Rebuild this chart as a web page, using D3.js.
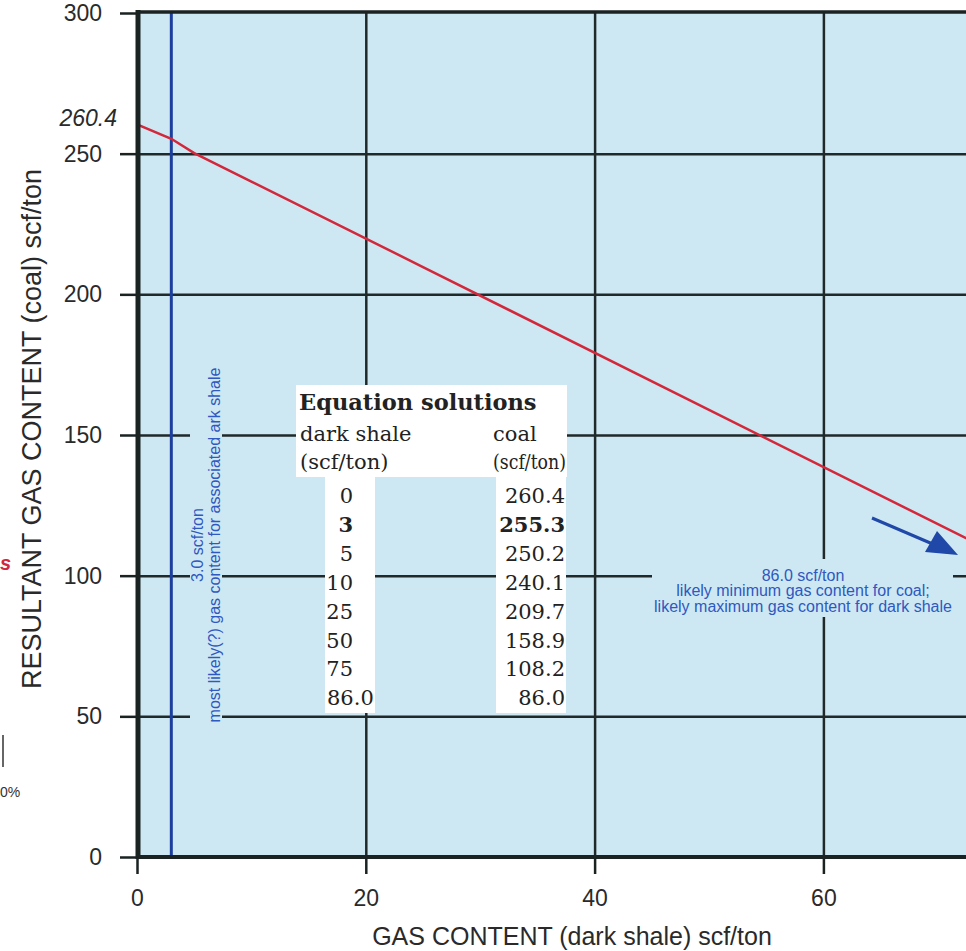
<!DOCTYPE html>
<html>
<head>
<meta charset="utf-8">
<script src="https://cdn.jsdelivr.net/npm/d3@7"></script>
<style>
  body { margin: 0; background: #fff; }
  svg { display: block; }
</style>
</head>
<body>
<div id="chart"></div>
<script>
// equation solutions, scf/ton
const shaleGas = [0, 3, 5, 10, 25, 50, 75, 86.0];
const coalGas = [260.4, 255.3, 250.2, 240.1, 209.7, 158.9, 108.2, 86.0];
const shaleLabels = ["0", "3", "5", "10", "25", "50", "75", "86.0"];
const coalLabels = ["260.4", "255.3", "250.2", "240.1", "209.7", "158.9", "108.2", "86.0"];
const likelyShale = 3;
const xTicks = [0, 20, 40, 60];
const yTicks = [0, 50, 100, 150, 200, 250, 300];
const xDomain = [0, 80];
const yDomain = [0, 300];

const width = 966, height = 951;
const plotLeft = 137, plotTop = 13, plotBottom = 857;
const pxPerUnit = 11.44;

const gridColor = "#1f2929";
const plotBg = "#cee8f3";
const blueText = "#2f58c0";
const sans = "'Liberation Sans', Arial, sans-serif";

let svg = d3.select("#chart")
    .append("svg")
    .attr("width", width)
    .attr("height", height);

let x = d3.scaleLinear().domain(xDomain).range([plotLeft, plotLeft + xDomain[1] * pxPerUnit]);
let y = d3.scaleLinear().domain(yDomain).range([plotBottom, plotTop]);

svg.append("defs").append("clipPath").attr("id", "plotClip")
    .append("rect")
    .attr("x", x(0)).attr("y", y(300))
    .attr("width", x(80) - x(0)).attr("height", y(0) - y(300));

// plot background
svg.append("rect")
    .attr("x", x(0)).attr("y", y(300))
    .attr("width", x(80) - x(0)).attr("height", y(0) - y(300))
    .attr("fill", plotBg);

// grid
let gy = svg.append("g")
    .attr("transform", "translate(" + x(0) + ",0)")
    .call(d3.axisLeft(y).tickValues(yTicks.slice(1, -1)).tickSize(-(x(80) - x(0))).tickFormat(""));
let gx = svg.append("g")
    .attr("transform", "translate(0," + y(0) + ")")
    .call(d3.axisBottom(x).tickValues([20, 40, 60]).tickSize(-(y(0) - y(300))).tickFormat(""));
[gy, gx].forEach(function (g) {
    g.select(".domain").remove();
    g.selectAll("line").attr("stroke", gridColor).attr("stroke-width", 2.5);
});

// boxes behind the annotations
svg.append("rect").attr("x", 190).attr("y", 362).attr("width", 32).attr("height", 366).attr("fill", plotBg);
svg.append("rect").attr("x", 652).attr("y", 559).attr("width", 301).attr("height", 58).attr("fill", plotBg);

// table boxes
svg.append("rect").attr("x", 296).attr("y", 385).attr("width", 271).attr("height", 92).attr("fill", "#fff");
svg.append("rect").attr("x", 325).attr("y", 477).attr("width", 50).attr("height", 236).attr("fill", "#fff");
svg.append("rect").attr("x", 496).attr("y", 477).attr("width", 70).attr("height", 236).attr("fill", "#fff");

let plot = svg.append("g").attr("clip-path", "url(#plotClip)");

// most likely dark shale content
plot.append("line")
    .attr("x1", x(likelyShale)).attr("x2", x(likelyShale))
    .attr("y1", y(0)).attr("y2", y(300))
    .attr("stroke", "#1c3f9e")
    .attr("stroke-width", 3);

// solutions line
let line = d3.line()
    .x(function (d) { return x(d[0]); })
    .y(function (d) { return y(d[1]); });

plot.append("path")
    .datum(d3.zip(shaleGas, coalGas))
    .attr("d", line)
    .attr("fill", "none")
    .attr("stroke", "#d3283b")
    .attr("stroke-width", 2.5);

// frame
svg.append("line").attr("x1", x(0) + 1).attr("x2", x(0) + 1).attr("y1", y(300) - 3).attr("y2", y(0) + 2)
    .attr("stroke", "#1a2222").attr("stroke-width", 5);
svg.append("line").attr("x1", x(0)).attr("x2", width).attr("y1", y(0)).attr("y2", y(0))
    .attr("stroke", "#1a2222").attr("stroke-width", 4);
svg.append("line").attr("x1", x(0)).attr("x2", width).attr("y1", y(300) - 1).attr("y2", y(300) - 1)
    .attr("stroke", "#1a2222").attr("stroke-width", 3.5);

// axes
let ay = svg.append("g")
    .attr("transform", "translate(" + x(0) + ",0)")
    .call(d3.axisLeft(y).tickValues(yTicks).tickSize(17).tickPadding(18));
let ax = svg.append("g")
    .attr("transform", "translate(0," + y(0) + ")")
    .call(d3.axisBottom(x).tickValues(xTicks).tickSize(17).tickPadding(16));
[ay, ax].forEach(function (g) {
    g.select(".domain").remove();
    g.selectAll("line").attr("stroke", "#1a2222").attr("stroke-width", 2.5);
    g.selectAll("text")
        .attr("fill", "#2a2a2a")
        .style("font-family", sans)
        .style("font-size", "23px");
});

// intercept label
svg.append("text")
    .attr("x", 117).attr("y", y(coalGas[0]) + 2)
    .attr("text-anchor", "end")
    .style("font-family", sans)
    .style("font-size", "23px")
    .style("font-style", "italic")
    .attr("fill", "#2a2a2a")
    .text(coalLabels[0]);

// axis titles
svg.append("text")
    .attr("transform", "translate(41,429) rotate(-90)")
    .attr("text-anchor", "middle")
    .style("font-family", sans)
    .style("font-size", "27px")
    .attr("fill", "#2a2a2a")
    .text("RESULTANT GAS CONTENT (coal) scf/ton");

svg.append("text")
    .attr("x", 572).attr("y", 945)
    .attr("text-anchor", "middle")
    .style("font-family", sans)
    .style("font-size", "25px")
    .attr("fill", "#2a2a2a")
    .text("GAS CONTENT (dark shale) scf/ton");

// rotated annotation beside the blue line
let rot = svg.append("text")
    .attr("transform", "translate(0,545) rotate(-90)")
    .attr("text-anchor", "middle")
    .style("font-family", sans)
    .style("font-size", "16px")
    .attr("fill", blueText);
rot.append("tspan").attr("x", 0).attr("y", 203).text(likelyShale.toFixed(1) + " scf/ton");
rot.append("tspan").attr("x", 0).attr("y", 220).text("most likely(?) gas content for associated ark shale");

// 86.0 annotation
let note = svg.append("text")
    .attr("text-anchor", "middle")
    .style("font-family", sans)
    .style("font-size", "16px")
    .attr("fill", blueText);
[coalLabels[coalLabels.length - 1] + " scf/ton", "likely minimum gas content for coal;", "likely maximum gas content for dark shale"]
    .forEach(function (t, i) {
        note.append("tspan").attr("x", 803).attr("y", 581 + i * 15.3).text(t);
    });

// arrow
svg.append("line")
    .attr("x1", 872).attr("y1", 518).attr("x2", 935).attr("y2", 545)
    .attr("stroke", "#1f48a8").attr("stroke-width", 3);
svg.append("path")
    .attr("d", "M958,555 L925,552 L937,531 Z")
    .attr("fill", "#1f48a8");

// table
let serif = "'DejaVu Serif', 'Liberation Serif', serif";
let tbl = svg.append("g")
    .style("font-family", serif)
    .style("font-size", "21px")
    .attr("fill", "#222");
tbl.append("text").attr("x", 299).attr("y", 410).style("font-weight", "bold").style("font-size", "22.5px").text("Equation solutions");
tbl.append("text").attr("x", 300).attr("y", 441).text("dark shale");
tbl.append("text").attr("x", 493).attr("y", 441).text("coal");
tbl.append("text").attr("x", 300).attr("y", 469).text("(scf/ton)");
tbl.append("text").attr("x", 493).attr("y", 469)
    .attr("textLength", 73).attr("lengthAdjust", "spacingAndGlyphs").text("(scf/ton)");

shaleLabels.forEach(function (s, i) {
    let by = 503 + i * 28.9;
    let bold = shaleGas[i] === likelyShale ? "bold" : "normal";
    tbl.append("text")
        .attr("x", s.indexOf(".") >= 0 ? 327 : 353)
        .attr("text-anchor", s.indexOf(".") >= 0 ? "start" : "end")
        .attr("y", by)
        .style("font-weight", bold)
        .text(s);
    tbl.append("text")
        .attr("x", 565)
        .attr("text-anchor", "end")
        .attr("y", by)
        .style("font-weight", bold)
        .text(coalLabels[i]);
});

// fragments of the neighbouring panel at the left edge
svg.append("text").attr("x", 0).attr("y", 570)
    .style("font-family", sans).style("font-size", "20px")
    .style("font-weight", "bold").style("font-style", "italic")
    .attr("fill", "#d3283b").text("s");
svg.append("line").attr("x1", 3).attr("x2", 3).attr("y1", 735).attr("y2", 767)
    .attr("stroke", "#666").attr("stroke-width", 2);
svg.append("text").attr("x", 0).attr("y", 797)
    .style("font-family", sans).style("font-size", "14px")
    .attr("fill", "#333").text("0%");
</script>
</body>
</html>
